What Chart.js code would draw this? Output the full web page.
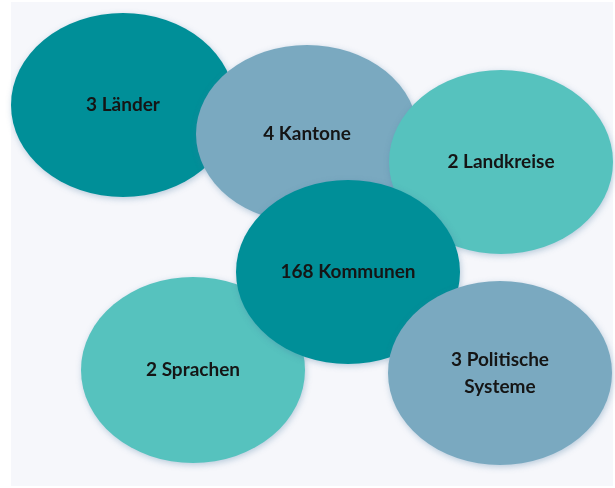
<!DOCTYPE html>
<html>
<head>
<meta charset="utf-8">
<script src="https://cdn.jsdelivr.net/npm/chart.js@4"></script>
<style>
  html, body { margin: 0; padding: 0; background: #ffffff; }
  #wrap { width: 615px; height: 488px; }
</style>
</head>
<body>
<div id="wrap"><canvas id="chart"></canvas></div>
<script>
// one ellipse per entry, listed in drawing order (later ones sit on top)
const labels = ['3 Länder', '4 Kantone', '2 Landkreise', '2 Sprachen', '168 Kommunen', '3 Politische|Systeme'];
const centerX = [123, 307, 501, 193, 348, 500];
const centerY = [105, 134, 162, 370, 272, 373];
const radiusX = [112, 111, 112, 112, 112, 112];
const radiusY = [92, 89, 92, 93, 92, 92];
const fillColors = ['#008f98', '#7aa9c0', '#56c2be', '#56c2be', '#008f98', '#7aa9c0'];

const ellipsePlugin = {
  id: 'ellipses',
  beforeDraw(chart) {
    const ctx = chart.ctx;
    ctx.save();
    ctx.fillStyle = '#ffffff';
    ctx.fillRect(0, 0, chart.width, chart.height);
    ctx.fillStyle = '#f6f7fb';
    ctx.fillRect(11, 2, 602, 484);
    ctx.restore();
  },
  afterDatasetsDraw(chart) {
    const ctx = chart.ctx;
    const xs = chart.scales.x;
    const ys = chart.scales.y;
    labels.forEach((lab, i) => {
      const px = xs.getPixelForValue(centerX[i]);
      const py = ys.getPixelForValue(centerY[i]);
      const rx = Math.abs(xs.getPixelForValue(centerX[i] + radiusX[i]) - px);
      const ry = Math.abs(ys.getPixelForValue(centerY[i] + radiusY[i]) - py);
      ctx.save();
      ctx.shadowColor = 'rgba(70,120,160,0.35)';
      ctx.shadowBlur = 6;
      ctx.shadowOffsetX = 1;
      ctx.shadowOffsetY = 2;
      ctx.beginPath();
      ctx.ellipse(px, py, rx, ry, 0, 0, Math.PI * 2);
      ctx.fillStyle = fillColors[i];
      ctx.fill();
      ctx.restore();

      ctx.save();
      ctx.fillStyle = '#151515';
      ctx.font = '700 19px Lato';
      ctx.textAlign = 'center';
      ctx.textBaseline = 'middle';
      const lines = lab.split('|');
      const lh = 27;
      lines.forEach((ln, k) => {
        ctx.fillText(ln, px, py + (k - (lines.length - 1) / 2) * lh);
      });
      ctx.restore();
    });
  }
};

new Chart(document.getElementById('chart'), {
  type: 'scatter',
  data: {
    datasets: [{
      data: centerX.map((x, i) => ({ x: x, y: centerY[i] })),
      pointRadius: 0,
      pointHoverRadius: 0
    }]
  },
  options: {
    responsive: true,
    maintainAspectRatio: false,
    animation: false,
    events: [],
    layout: { padding: 0 },
    plugins: { legend: { display: false }, tooltip: { enabled: false } },
    scales: {
      x: { type: 'linear', min: 0, max: 615, display: false },
      y: { type: 'linear', min: 0, max: 488, reverse: true, display: false }
    }
  },
  plugins: [ellipsePlugin]
});
</script>
</body>
</html>
